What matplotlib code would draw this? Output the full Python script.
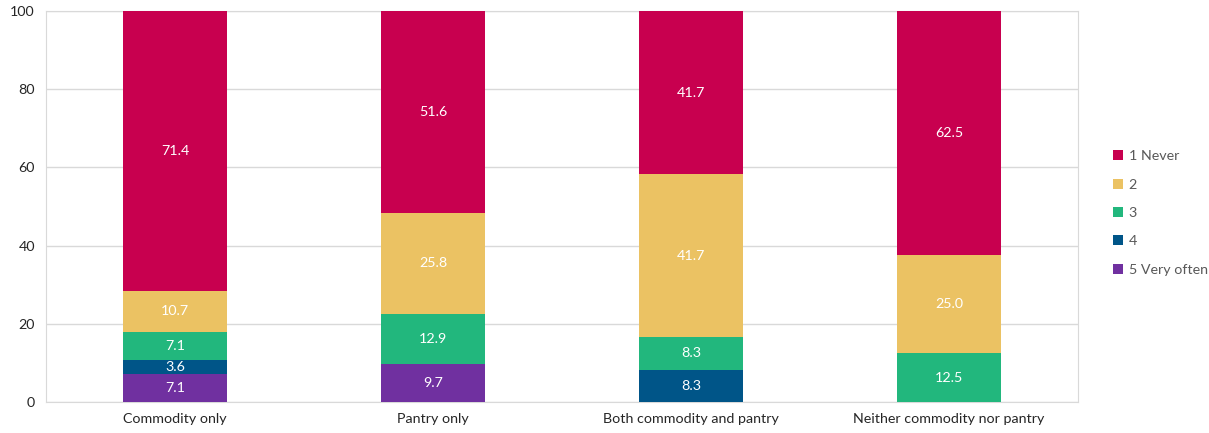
import numpy as np
import matplotlib.pyplot as plt

plt.rcParams['font.family'] = ['Lato', 'DejaVu Sans']

categories = ['Commodity only', 'Pantry only', 'Both commodity and pantry', 'Neither commodity nor pantry']
labels = ['1 Never', '2', '3', '4', '5 Very often']
never = [71.4, 51.6, 41.7, 62.5]
two = [10.7, 25.8, 41.7, 25.0]
three = [7.1, 12.9, 8.3, 12.5]
four = [3.6, 0, 8.3, 0]
very_often = [7.1, 9.7, 0, 0]

colors = ['#C8004F', '#EBC263', '#22B77D', '#005588', '#7030A0']

fig = plt.figure(figsize=(12.09, 4.33), dpi=100)
ax = fig.add_axes([46/1209, 31/433, (1078-46)/1209, (402-11)/433])

x = np.arange(len(categories))
# stack from the bottom: 5, 4, 3, 2, 1
stack = [very_often, four, three, two, never]
stack_colors = colors[::-1]
stack_labels = labels[::-1]
bottom = np.zeros(len(categories))
handles = {}
for vals, c, lab in zip(stack, stack_colors, stack_labels):
    vals = np.array(vals, dtype=float)
    b = ax.bar(x, vals, 0.4, bottom=bottom, color=c, label=lab, zorder=3)
    handles[lab] = b
    for xi, v, bt in zip(x, vals, bottom):
        if v > 0:
            ax.text(xi, bt + v / 2, f'{v:.1f}', ha='center', va='center',
                    color='white', fontsize=10.3, zorder=4)
    bottom += vals

ax.set_xlim(-0.5, 3.5)
ax.set_ylim(0, 100)
ax.set_yticks([0, 20, 40, 60, 80, 100])
ax.set_xticks(x)
ax.set_xticklabels(categories)
ax.yaxis.grid(True, color='#D9D9D9', linewidth=1, zorder=0)
ax.tick_params(length=0, labelsize=10.3, colors='#262626', pad=8)
for s in ax.spines.values():
    s.set_color('#D9D9D9')

leg = fig.legend([handles[l] for l in labels], labels, loc='center left',
                 bbox_to_anchor=(1100/1209, 1 - 213/433), frameon=False,
                 fontsize=10.3, handlelength=0.7, handleheight=0.7,
                 labelspacing=1.15, handletextpad=0.4)
for t in leg.get_texts():
    t.set_color('#595959')

fig.savefig('out.png', dpi=100)
